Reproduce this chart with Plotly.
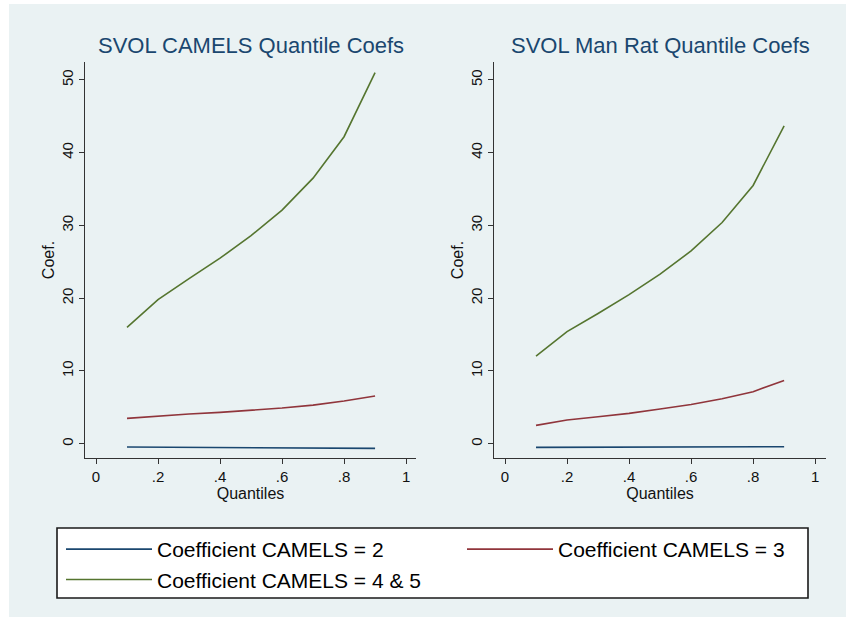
import plotly.graph_objects as go

W, H = 846, 617

quantiles = [0.1, 0.2, 0.3, 0.4, 0.5, 0.6, 0.7, 0.8, 0.9]

# Left panel: SVOL CAMELS
camels_c2 = [-0.46, -0.48, -0.50, -0.51, -0.53, -0.55, -0.57, -0.60, -0.64]
camels_c3 = [3.48, 3.80, 4.08, 4.30, 4.58, 4.90, 5.30, 5.87, 6.55]
camels_c45 = [16.0, 19.8, 22.7, 25.5, 28.6, 32.1, 36.5, 42.2, 51.0]

# Right panel: SVOL Man Rat
manrat_c2 = [-0.50, -0.49, -0.48, -0.47, -0.46, -0.45, -0.44, -0.43, -0.41]
manrat_c3 = [2.52, 3.25, 3.70, 4.17, 4.77, 5.40, 6.19, 7.15, 8.70]
manrat_c45 = [12.05, 15.4, 17.9, 20.5, 23.3, 26.5, 30.4, 35.5, 43.7]

series_names = ["Coefficient CAMELS = 2", "Coefficient CAMELS = 3", "Coefficient CAMELS = 4 & 5"]
colors = ["#1A476F", "#90353B", "#55752F"]
legend_ids = ["legend", "legend2", "legend"]
panel_titles = ["SVOL CAMELS Quantile Coefs", "SVOL Man Rat Quantile Coefs"]
x_tickvals = [0, 0.2, 0.4, 0.6, 0.8, 1]
x_ticktext = ["0", ".2", ".4", ".6", ".8", "1"]
y_tickvals = [0, 10, 20, 30, 40, 50]

FONT = "Liberation Sans, Arial, sans-serif"
BG = "#EAF2F3"

fig = go.Figure()
panels = [(camels_c2, camels_c3, camels_c45), (manrat_c2, manrat_c3, manrat_c45)]
for p, data in enumerate(panels):
    xa = "x" if p == 0 else "x2"
    ya = "y" if p == 0 else "y2"
    for i, ys in enumerate(data):
        fig.add_trace(go.Scatter(
            x=quantiles, y=ys, mode="lines", name=series_names[i],
            line=dict(color=colors[i], width=1.6),
            xaxis=xa, yaxis=ya, showlegend=(p == 0), legend=legend_ids[i],
        ))

def px_x(v):
    return v / W

def px_y(v):
    return 1 - v / H

ax_common = dict(
    showline=True, linecolor="#333333", linewidth=1.3,
    ticks="outside", ticklen=5, tickcolor="#333333", tickwidth=1.3,
    tickfont=dict(family=FONT, size=15, color="#111111"),
    zeroline=False, automargin=False,
)

legend_common = dict(
    orientation="v", xanchor="left", yanchor="top",
    bgcolor="rgba(0,0,0,0)", borderwidth=0,
    font=dict(family=FONT, size=21, color="#000000"),
    itemwidth=86, traceorder="normal", tracegroupgap=0,
)

fig.update_layout(
    width=W, height=H,
    margin=dict(l=0, r=0, t=0, b=0),
    paper_bgcolor="white",
    plot_bgcolor="white",
    font=dict(family=FONT),
    xaxis=dict(domain=[px_x(85), px_x(416)], range=[-0.0355, 1.032],
               tickvals=x_tickvals, ticktext=x_ticktext, showgrid=False,
               title=dict(text="Quantiles", font=dict(family=FONT, size=16, color="#111111"), standoff=0),
               anchor="y", **ax_common),
    xaxis2=dict(domain=[px_x(494), px_x(826)], range=[-0.0355, 1.035],
                tickvals=x_tickvals, ticktext=x_ticktext, showgrid=False,
                title=dict(text="Quantiles", font=dict(family=FONT, size=16, color="#111111"), standoff=0),
                anchor="y2", **ax_common),
    yaxis=dict(domain=[px_y(458), px_y(62)], range=[-1.966, 52.47],
               tickvals=y_tickvals, tickangle=-90, showgrid=True, gridcolor=BG, gridwidth=1.2,
               title=dict(text="Coef.", font=dict(family=FONT, size=16, color="#111111"), standoff=0),
               anchor="x", **ax_common),
    yaxis2=dict(domain=[px_y(458), px_y(62)], range=[-1.966, 52.47],
                tickvals=y_tickvals, tickangle=-90, showgrid=True, gridcolor=BG, gridwidth=1.2,
                title=dict(text="Coef.", font=dict(family=FONT, size=16, color="#111111"), standoff=0),
                anchor="x2", **ax_common),
    legend=dict(x=px_x(61), y=px_y(529), **legend_common),
    legend2=dict(x=px_x(462), y=px_y(529), **legend_common),
    shapes=[
        dict(type="rect", xref="paper", yref="paper", x0=px_x(9), x1=1, y0=0, y1=px_y(4),
             fillcolor=BG, line=dict(width=0), layer="below"),
        dict(type="rect", xref="paper", yref="paper", x0=px_x(57), x1=px_x(808), y0=px_y(598), y1=px_y(528),
             fillcolor="white", line=dict(color="#1a1a1a", width=1.6), layer="below"),
    ],
    annotations=[
        dict(text=panel_titles[0], x=px_x(250.5), y=px_y(46), xref="paper", yref="paper",
             xanchor="center", yanchor="middle", showarrow=False,
             font=dict(family=FONT, size=22, color="#1A476F")),
        dict(text=panel_titles[1], x=px_x(660), y=px_y(46), xref="paper", yref="paper",
             xanchor="center", yanchor="middle", showarrow=False,
             font=dict(family=FONT, size=22, color="#1A476F")),
    ],
)

fig.write_html("out.html")
